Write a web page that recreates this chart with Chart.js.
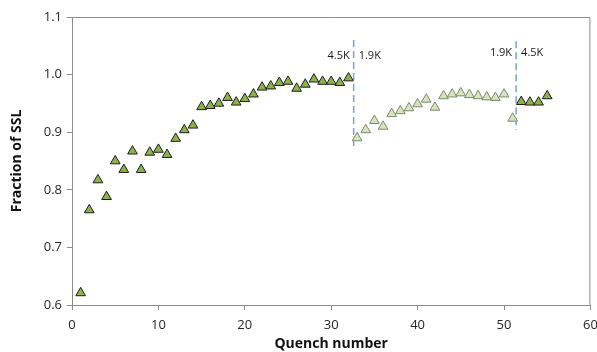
<!DOCTYPE html>
<html>
<head>
<meta charset="utf-8">
<script src="https://cdn.jsdelivr.net/npm/chart.js@4/dist/chart.umd.min.js"></script>
<style>
  html, body { margin: 0; padding: 0; background: #fff; }
  #wrap { width: 597px; height: 352px; position: relative; }
</style>
</head>
<body>
<div id="wrap"><canvas id="c" width="597" height="352"></canvas></div>
<script>
// Quench runs at 4.5K (first block)
const quenchA = [1,2,3,4,5,6,7,8,9,10,11,12,13,14,15,16,17,18,19,20,21,22,23,24,25,26,27,28,29,30,31,32];
const fracA   = [0.621,0.765,0.817,0.788,0.850,0.835,0.867,0.835,0.865,0.870,0.861,0.889,0.904,0.912,0.944,0.946,0.950,0.960,0.952,0.958,0.966,0.978,0.980,0.986,0.988,0.976,0.983,0.992,0.988,0.988,0.986,0.994];
// Quench runs at 1.9K
const quenchB = [33,34,35,36,37,38,39,40,41,42,43,44,45,46,47,48,49,50,51];
const fracB   = [0.890,0.904,0.920,0.910,0.932,0.937,0.942,0.949,0.957,0.943,0.963,0.966,0.968,0.965,0.963,0.961,0.960,0.966,0.924];
// Quench runs back at 4.5K
const quenchC = [52,53,54,55];
const fracC   = [0.953,0.952,0.952,0.963];
// Temperature change markers
const changeX      = [32.6, 51.4];
const changeTop    = [1.060, 1.058];
const changeBottom = [0.875, 0.904];
const labelY       = [1.032, 1.038];
const labelLeft    = ['4.5K', '1.9K'];
const labelRight   = ['1.9K', '4.5K'];
// Axes
const xTicks = [0,10,20,30,40,50,60];
const yTicks = [0.6,0.7,0.8,0.9,1.0,1.1];

const pts = (xs, ys) => xs.map((x, i) => ({x: x, y: ys[i]}));

const datasets = [
  { label: '4.5K', data: pts(quenchA, fracA), pointStyle: 'triangle', pointRadius: 5.6,
    backgroundColor: '#8db24a', borderColor: '#1e1e1e', borderWidth: 1, showLine: false },
  { label: '1.9K', data: pts(quenchB, fracB), pointStyle: 'triangle', pointRadius: 5.6,
    backgroundColor: '#d6e3bf', borderColor: '#7d8a6c', borderWidth: 1, showLine: false },
  { label: '4.5K b', data: pts(quenchC, fracC), pointStyle: 'triangle', pointRadius: 5.6,
    backgroundColor: '#8db24a', borderColor: '#1e1e1e', borderWidth: 1, showLine: false }
];
changeX.forEach((cx, i) => {
  datasets.push({ type: 'line', label: 'change' + i,
    data: [{x: cx, y: changeTop[i]}, {x: cx, y: changeBottom[i]}],
    borderColor: '#72a2d8', borderWidth: 1.5, borderDash: [7, 4],
    pointRadius: 0, showLine: true, fill: false });
});

const frame = {
  id: 'frame',
  afterDatasetsDraw(chart) {
    const {ctx, chartArea: a, scales} = chart;
    ctx.save();
    ctx.strokeStyle = '#8c8c8c';
    ctx.lineWidth = 1;
    ctx.beginPath();
    ctx.moveTo(a.left, a.top + 0.5);
    ctx.lineTo(a.right - 0.5, a.top + 0.5);
    ctx.lineTo(a.right - 0.5, a.bottom);
    ctx.stroke();
    ctx.fillStyle = '#1a1a1a';
    ctx.font = '11px "Open Sans"';
    ctx.textBaseline = 'middle';
    changeX.forEach((cx, i) => {
      const px = scales.x.getPixelForValue(cx);
      const py = scales.y.getPixelForValue(labelY[i]);
      ctx.textAlign = 'right';
      ctx.fillText(labelLeft[i], px - 4, py);
      ctx.textAlign = 'left';
      ctx.fillText(labelRight[i], px + 5, py);
    });
    ctx.restore();
  }
};

new Chart(document.getElementById('c'), {
  type: 'scatter',
  data: { datasets },
  options: {
    responsive: false,
    animation: false,
    devicePixelRatio: 1,
    layout: { padding: { top: 17, right: 5, left: 0, bottom: 0 } },
    plugins: { legend: { display: false }, tooltip: { enabled: false } },
    scales: {
      x: {
        type: 'linear', min: 0, max: 60,
        afterBuildTicks: s => { s.ticks = xTicks.map(v => ({value: v})); },
        afterFit: s => { s.height = 47; s.paddingLeft = 0; s.paddingRight = 0; },
        ticks: { color: '#262626', font: { family: 'Open Sans', size: 13 }, padding: 7, maxRotation: 0 },
        grid: { drawOnChartArea: false, drawTicks: true, tickLength: 5, color: '#8c8c8c' },
        border: { color: '#8c8c8c', width: 1 },
        title: { display: true, text: 'Quench number', color: '#111',
                 font: { family: 'Open Sans', size: 14, weight: 'bold' }, padding: { top: 0, bottom: 0 } }
      },
      y: {
        type: 'linear', min: 0.6, max: 1.1,
        afterBuildTicks: s => { s.ticks = yTicks.map(v => ({value: v})); },
        afterFit: s => { s.width = 72; },
        ticks: { color: '#262626', font: { family: 'Open Sans', size: 13 }, padding: 5,
                 callback: v => Number(v).toFixed(1) },
        grid: { drawOnChartArea: false, drawTicks: true, tickLength: 5, color: '#8c8c8c' },
        border: { color: '#8c8c8c', width: 1 },
        title: { display: true, text: 'Fraction of SSL', color: '#111',
                 font: { family: 'Open Sans', size: 14, weight: 'bold' }, padding: { top: 9, bottom: 6 } }
      }
    }
  },
  plugins: [frame]
});
</script>
</body>
</html>
